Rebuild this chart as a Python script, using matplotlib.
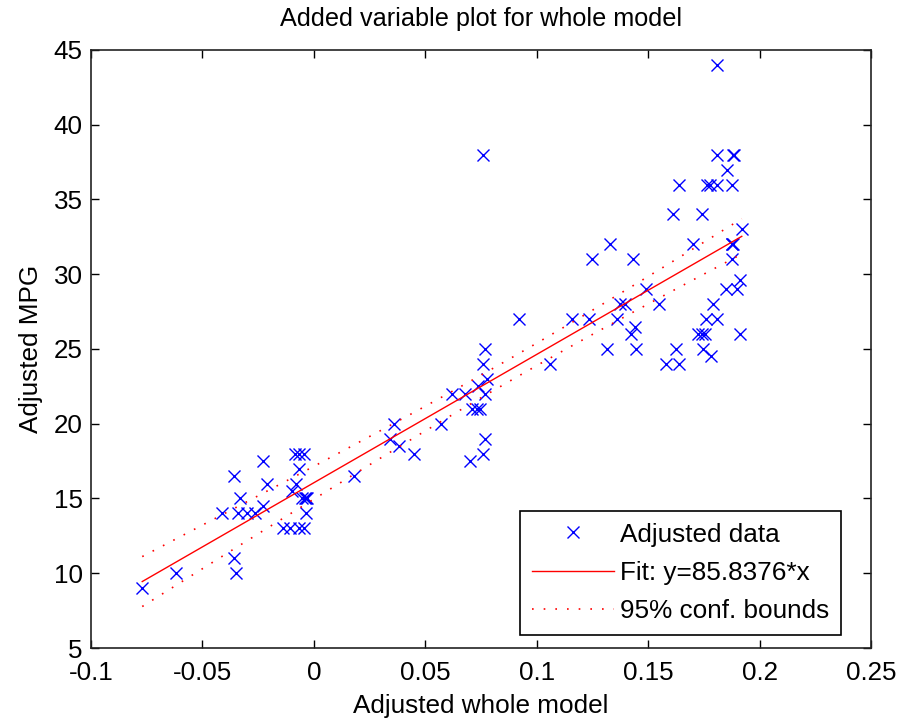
import numpy as np
import matplotlib
matplotlib.use('Agg')
import matplotlib.pyplot as plt

# adjusted data
adj_x = [-0.077, -0.062, -0.036, -0.035, -0.036, -0.023, -0.041, -0.033, -0.034, -0.030,
         -0.0265, -0.023, -0.021, -0.0085, -0.0066, -0.0045, -0.0066, -0.0078, -0.0096, -0.0055,
         -0.0033, -0.004, -0.003, -0.0036, -0.014, -0.0108, -0.0066, -0.0045,
         0.018, 0.036, 0.034, 0.038, 0.045, 0.057, 0.062, 0.068, 0.0737, 0.0767,
         0.0767, 0.076, 0.0775, 0.0708, 0.073, 0.0745, 0.0767, 0.076, 0.070, 0.076,
         0.092, 0.106,
         0.161, 0.174, 0.192, 0.133, 0.170, 0.1874, 0.1874, 0.1880, 0.125, 0.143,
         0.1874, 0.191, 0.185, 0.1897, 0.149, 0.1373, 0.1395, 0.155, 0.179, 0.116,
         0.1235, 0.136, 0.176, 0.181, 0.144, 0.1425, 0.1725, 0.174, 0.1754, 0.191,
         0.1316, 0.1445, 0.1627, 0.1747, 0.1784, 0.158, 0.164, 0.181, 0.181, 0.1879,
         0.1885, 0.1855, 0.164, 0.1762, 0.1777, 0.181, 0.1874]
adj_y = [9, 10, 11, 10, 16.5, 17.5, 14, 15, 14, 14,
         14, 14.5, 16, 18, 18, 18, 17, 16, 15.5, 15,
         15, 15, 15, 14, 13, 13, 13, 13,
         16.5, 20, 19, 18.5, 18, 20, 22, 22, 22.5, 22,
         25, 24, 23, 21, 21, 21, 19, 18, 17.5, 38,
         27, 24,
         34, 34, 33, 32, 32, 32, 32, 32, 31, 31,
         31, 29.6, 29, 29, 29, 28, 28, 28, 28, 27,
         27, 27, 27, 27, 26.5, 26, 26, 26, 26, 26,
         25, 25, 25, 25, 24.5, 24, 24, 44, 38, 38,
         38, 37, 36, 36, 36, 36, 36]

slope = 85.8376
xticks = [-0.1, -0.05, 0, 0.05, 0.1, 0.15, 0.2, 0.25]
xtick_labels = ['-0.1', '-0.05', '0', '0.05', '0.1', '0.15', '0.2', '0.25']
yticks = [5, 10, 15, 20, 25, 30, 35, 40, 45]

x = np.array(adj_x)
y = np.array(adj_y)
n = len(x)
xbar, ybar = x.mean(), y.mean()
icpt = ybar - slope * xbar
resid = y - (icpt + slope * x)
s = np.sqrt((resid ** 2).sum() / (n - 2))
sxx = ((x - xbar) ** 2).sum()

xf = np.linspace(x.min(), x.max(), 200)
yf = icpt + slope * xf
half = 1.985 * s * np.sqrt(1.0 / n + (xf - xbar) ** 2 / sxx)

plt.rcParams['font.family'] = ['Liberation Sans', 'DejaVu Sans']
fig = plt.figure(figsize=(8.99, 7.2), dpi=100)
ax = fig.add_axes([0.1012, 0.1, 0.8677, 0.8306])

ax.plot(x, y, 'x', color='blue', markersize=8, markeredgewidth=1, label='Adjusted data')
ax.plot(xf, yf, '-', color='red', linewidth=1, label='Fit: y=85.8376*x')
ax.plot(xf, yf + half, color='red', linewidth=1.2, linestyle=(0, (1, 6)), label='95% conf. bounds')
ax.plot(xf, yf - half, color='red', linewidth=1.2, linestyle=(0, (1, 6)))

ax.set_xlim(-0.1, 0.25)
ax.set_ylim(5, 45)
ax.set_xticks(xticks)
ax.set_xticklabels(xtick_labels)
ax.set_yticks(yticks)
ax.tick_params(direction='in', length=6, width=1, top=True, right=True, labelsize=18.7)
ax.tick_params(axis='x', pad=9)
ax.tick_params(axis='y', pad=6)
for sp in ax.spines.values():
    sp.set_linewidth(1.2)
    sp.set_color('#222222')

ax.set_title('Added variable plot for whole model', fontsize=18.2, pad=17)
ax.set_xlabel('Adjusted whole model', fontsize=18.8, labelpad=7)
ax.set_ylabel('Adjusted MPG', fontsize=18.8, labelpad=8)

leg = ax.legend(loc='lower right', bbox_to_anchor=(0.9615, 0.0217), fontsize=18.8,
                fancybox=False, framealpha=1, edgecolor='black', handlelength=3.15,
                handletextpad=0.23, labelspacing=0.55, borderpad=0.45, borderaxespad=0)
leg.get_frame().set_linewidth(1.2)

fig.savefig('out.png', dpi=100)
